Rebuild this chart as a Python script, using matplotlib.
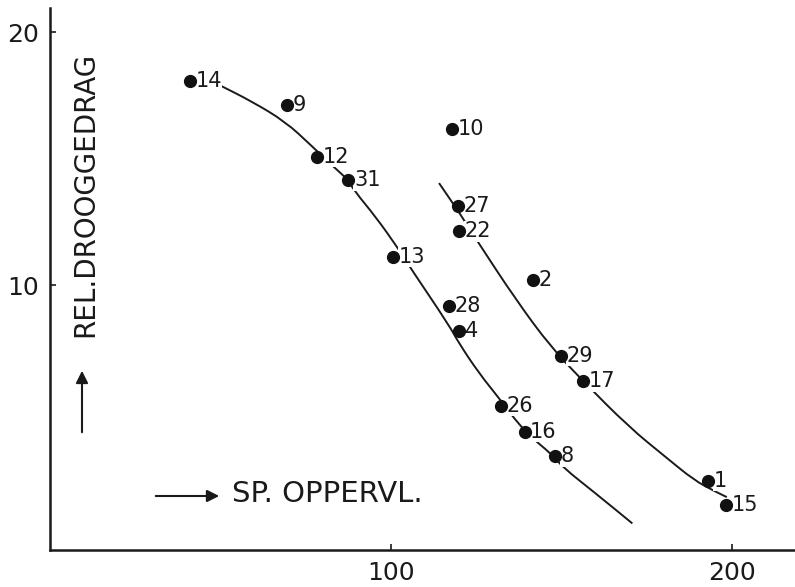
import numpy as np
import matplotlib
matplotlib.use("Agg")
import matplotlib.pyplot as plt
from matplotlib.path import Path
from matplotlib.patches import PathPatch

# sample points: specific surface (x) vs relative dry weight (y)
labels = ['14', '9', '10', '12', '31', '13', '27', '22', '2', '28', '4',
          '29', '17', '26', '16', '8', '1', '15']
sp_opp = [41.0, 69.6, 117.8, 78.4, 87.5, 100.7, 119.7, 119.9, 141.7, 117.0,
          120.1, 150.0, 156.4, 132.2, 139.2, 148.0, 193.1, 198.4]
droog = [18.06, 17.1, 16.15, 15.07, 14.15, 11.12, 13.13, 12.13, 10.19, 9.17,
         8.19, 7.21, 6.21, 5.23, 4.20, 3.24, 2.27, 1.30]

# hand drawn trend lines
left_x = [49.6, 59.3, 69.1, 76.5, 83.6, 87.5, 89.1, 95.5, 101.8, 105.8,
          117.0, 119.9, 125.8, 131.7, 139.0, 147.8, 150.2, 160.0, 170.8]
left_y = [17.91, 17.25, 16.45, 15.53, 14.62, 14.15, 13.75, 12.70, 11.51, 10.66,
          8.42, 7.71, 6.52, 5.53, 4.23, 3.24, 2.82, 1.77, 0.58]
right_x = [114.1, 120.5, 125.5, 136.7, 146.9, 156.3, 169.8, 180.6, 188.9,
           194.7, 198.5]
right_y = [14.03, 12.77, 11.70, 9.41, 7.55, 6.21, 4.39, 3.20, 2.29,
           1.87, 1.62]

plt.rcParams['font.family'] = ['DejaVu Sans']
ink = '#1a1a1a'


def smooth_line(ax, xs, ys):
    # quadratic bezier through segment midpoints, read points act as controls
    pts = list(zip(xs, ys))
    verts = [pts[0]]
    codes = [Path.MOVETO]
    mids = [((pts[i][0] + pts[i + 1][0]) / 2, (pts[i][1] + pts[i + 1][1]) / 2)
            for i in range(len(pts) - 1)]
    verts.append(mids[0])
    codes.append(Path.LINETO)
    for i in range(1, len(pts) - 1):
        verts += [pts[i], mids[i]]
        codes += [Path.CURVE3, Path.CURVE3]
    verts.append(pts[-1])
    codes.append(Path.LINETO)
    ax.add_patch(PathPatch(Path(verts, codes), facecolor='none',
                           edgecolor=ink, lw=1.4, zorder=2))


fig = plt.figure(figsize=(7.95, 5.87), dpi=100)
ax = fig.add_axes([50/795, 37/587, 745/795, 542/587])

smooth_line(ax, left_x, left_y)
smooth_line(ax, right_x, right_y)
ax.plot(sp_opp, droog, 'o', color='#111111', ms=8.5, zorder=5)

for lab, xx, yy in zip(labels, sp_opp, droog):
    ax.annotate(lab, (xx, yy), xytext=(4, 0), textcoords='offset points',
                ha='left', va='center', fontsize=15, color=ink,
                bbox=dict(facecolor='white', edgecolor='none', pad=0.5),
                zorder=3)

ax.set_xlim(0, 218.5)
ax.set_ylim(-0.47, 20.95)
ax.set_xticks([100, 200])
ax.set_yticks([10, 20])
ax.tick_params(direction='in', length=4, width=1.2, labelsize=18, pad=8,
               colors=ink)
for s in ['top', 'right']:
    ax.spines[s].set_visible(False)
for s in ['left', 'bottom']:
    ax.spines[s].set_linewidth(1.8)
    ax.spines[s].set_color(ink)

# axis titles with arrows, as in the original drawing
fig.text(85/795, 1 - 194/587, 'REL.DROOGGEDRAG', rotation=90, ha='center',
         va='center', fontsize=20, color=ink)
fig.text(232/795, 1 - 494/587, 'SP. OPPERVL.', ha='left', va='center',
         fontsize=21, color=ink)
ax.annotate('', xy=(82/795, 1 - 368/587), xytext=(82/795, 1 - 435/587),
            xycoords='figure fraction', textcoords='figure fraction',
            arrowprops=dict(arrowstyle='-|>', color=ink, lw=1.5,
                            mutation_scale=18))
ax.annotate('', xy=(222/795, 1 - 496/587), xytext=(153/795, 1 - 496/587),
            xycoords='figure fraction', textcoords='figure fraction',
            arrowprops=dict(arrowstyle='-|>', color=ink, lw=1.5,
                            mutation_scale=18))

fig.savefig('out.png', dpi=100, facecolor='white')
